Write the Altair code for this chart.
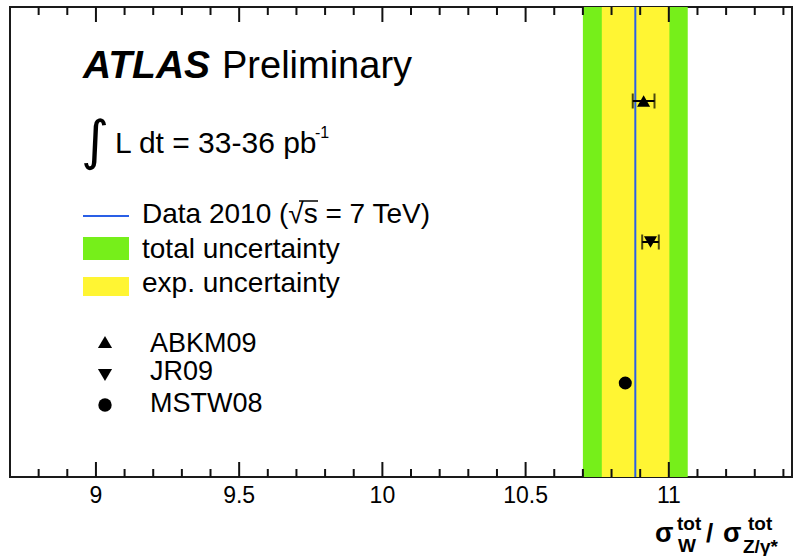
import altair as alt
import pandas as pd

# ---------------- data ----------------
data_value = 10.883            # measured ratio (blue line)
exp_band = [10.766, 11.002]    # experimental uncertainty (yellow)
total_band = [10.700, 11.066]  # total uncertainty (green)

pdf_names = ["ABKM09", "JR09", "MSTW08"]
pdf_values = [10.912, 10.936, 10.848]
pdf_err = [0.038, 0.029, 0.0]
pdf_rows = [0.8, 0.5, 0.2]
pdf_shapes = ["triangle-up", "triangle-down", "circle"]

major_ticks = [9.0, 9.5, 10.0, 10.5, 11.0]
tick_labels = ["9", "9.5", "10", "10.5", "11"]
minor_ticks = [8.8, 8.9, 9.1, 9.2, 9.3, 9.4, 9.6, 9.7, 9.8, 9.9,
               10.1, 10.2, 10.3, 10.4, 10.6, 10.7, 10.8, 10.9,
               11.1, 11.2, 11.3, 11.4]
x_domain = [8.7, 11.43]

# ---------------- layout ----------------
W, H = 782, 470
FONT = "Liberation Sans"
GREEN = "#76ef1a"
YELLOW = "#fff533"
BLUE = "#2a5fe6"

xs = alt.Scale(domain=x_domain, nice=False, zero=False)
ys = alt.Scale(domain=[0, 1], nice=False, zero=False)

one = alt.Data(values=[{}])

bands = pd.DataFrame({"lo": [total_band[0], exp_band[0]],
                      "hi": [total_band[1], exp_band[1]],
                      "kind": ["total", "exp"]})

band_chart = alt.Chart(bands).mark_rect().encode(
    x=alt.X("lo:Q", scale=xs, axis=None),
    x2="hi:Q",
    y=alt.value(0),
    y2=alt.value(H),
    color=alt.Color("kind:N", scale=alt.Scale(domain=["total", "exp"], range=[GREEN, YELLOW]), legend=None),
)

line_chart = alt.Chart(pd.DataFrame({"v": [data_value]})).mark_rule(color=BLUE, strokeWidth=2).encode(
    x=alt.X("v:Q", scale=xs, axis=None),
    y=alt.value(0),
    y2=alt.value(H),
)

pdf = pd.DataFrame({"name": pdf_names, "v": pdf_values, "err": pdf_err,
                    "row": pdf_rows, "shape": pdf_shapes})
pdf["lo"] = pdf["v"] - pdf["err"]
pdf["hi"] = pdf["v"] + pdf["err"]
pdf_e = pdf[pdf["err"] > 0]

err_rule = alt.Chart(pdf_e).mark_rule(color="black", strokeWidth=2).encode(
    x=alt.X("lo:Q", scale=xs, axis=None), x2="hi:Q",
    y=alt.Y("row:Q", scale=ys, axis=None),
)
cap_lo = alt.Chart(pdf_e).mark_tick(color="black", orient="vertical", size=15, thickness=2).encode(
    x=alt.X("lo:Q", scale=xs, axis=None), y=alt.Y("row:Q", scale=ys, axis=None),
)
cap_hi = alt.Chart(pdf_e).mark_tick(color="black", orient="vertical", size=15, thickness=2).encode(
    x=alt.X("hi:Q", scale=xs, axis=None), y=alt.Y("row:Q", scale=ys, axis=None),
)
shape_scale = alt.Scale(domain=pdf_names, range=pdf_shapes)
points = alt.Chart(pdf).mark_point(filled=True, color="black", opacity=1, size=170).encode(
    x=alt.X("v:Q", scale=xs, axis=None),
    y=alt.Y("row:Q", scale=ys, axis=None),
    shape=alt.Shape("name:N", scale=shape_scale, legend=None),
)

# ticks (inward, bottom and top)
maj = pd.DataFrame({"t": major_ticks, "lab": tick_labels})
mnr = pd.DataFrame({"t": minor_ticks})
def tick_layer(df, y0, y1):
    return alt.Chart(df).mark_rule(color="#111", strokeWidth=2).encode(
        x=alt.X("t:Q", scale=xs, axis=None), y=alt.value(y0), y2=alt.value(y1))

ticks = [tick_layer(maj, H - 15, H), tick_layer(mnr, H - 8, H),
         tick_layer(maj, 0, 15), tick_layer(mnr, 0, 8)]

labels = alt.Chart(maj).mark_text(font=FONT, fontSize=23, color="black", align="center",
                                  baseline="alphabetic").encode(
    x=alt.X("t:Q", scale=xs, axis=None), y=alt.value(496), text="lab:N")

def txt(s, x, y, size, weight="normal", style="normal", align="left", baseline="alphabetic", font=FONT):
    return alt.Chart(one).mark_text(text=s, font=font, fontSize=size, fontWeight=weight,
                                    fontStyle=style, align=align, baseline=baseline,
                                    color="black").encode(x=alt.value(x), y=alt.value(y))

texts = [
    txt("ATLAS", 73, 71, 39, weight="bold", style="italic"),
    txt("Preliminary", 212, 71, 38),
    txt("\u222b", 85, 136, 54, baseline="middle", align="center", font="DejaVu Sans"),
    txt("L dt = 33-36 pb", 105, 146, 30),
    txt("-1", 305, 131, 16),
    txt("Data 2010 (\u221as = 7 TeV)", 132, 216, 28),
    txt("total uncertainty", 132, 251, 28),
    txt("exp. uncertainty", 132, 285, 28),
    txt(pdf_names[0], 140, 345, 27),
    txt(pdf_names[1], 140, 373, 27),
    txt(pdf_names[2], 140, 405, 27),
    # axis title
    txt("\u03c3", 645, 535, 27, weight="bold"),
    txt("tot", 667, 523, 19, weight="bold"),
    txt("W", 668, 545, 19, weight="bold"),
    txt("/", 696, 535, 26, weight="bold"),
    txt("\u03c3", 713, 535, 27, weight="bold"),
    txt("tot", 738, 523, 19, weight="bold"),
    txt("Z/\u03b3*", 733, 546, 19, weight="bold"),
]

# overline of the square root
sqrt_bar = alt.Chart(one).mark_rule(color="black", strokeWidth=1.5).encode(
    x=alt.value(289), x2=alt.value(308), y=alt.value(194))

# legend symbols
leg_line = alt.Chart(one).mark_rule(color=BLUE, strokeWidth=2).encode(
    x=alt.value(73), x2=alt.value(119), y=alt.value(209))
leg_green = alt.Chart(one).mark_rect(color=GREEN).encode(
    x=alt.value(73), x2=alt.value(119), y=alt.value(230), y2=alt.value(253))
leg_yellow = alt.Chart(one).mark_rect(color=YELLOW).encode(
    x=alt.value(73), x2=alt.value(119), y=alt.value(270), y2=alt.value(289))
leg_pts = [
    alt.Chart(one).mark_point(shape=s, filled=True, color="black", opacity=1, size=sz).encode(
        x=alt.value(95), y=alt.value(yy))
    for s, yy, sz in zip(pdf_shapes, [335, 368, 398], [200, 200, 180])
]

chart = alt.layer(
    band_chart, line_chart, err_rule, cap_lo, cap_hi, points, *ticks, labels,
    *texts, sqrt_bar, leg_line, leg_green, leg_yellow, *leg_pts
).properties(
    width=W, height=H,
    autosize=alt.AutoSizeParams(type="none"),
    padding={"left": 10, "top": 7, "right": 1, "bottom": 79},
).configure_view(stroke="#1a1a1a", strokeWidth=2)

chart.save("out.html", embed_options={"renderer": "svg", "actions": False})
